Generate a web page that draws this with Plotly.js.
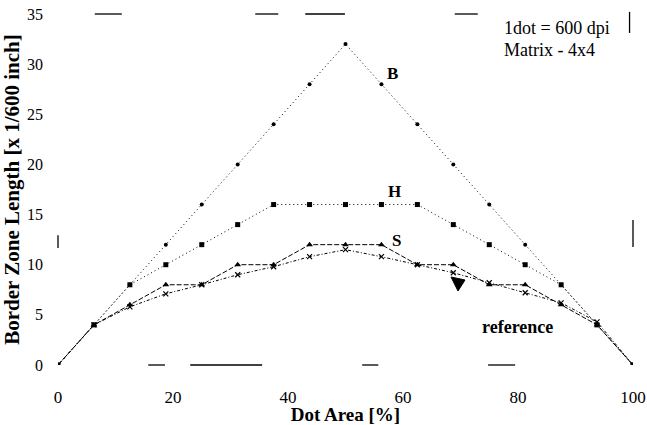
<!DOCTYPE html>
<html>
<head>
<meta charset="utf-8">
<script src="https://cdn.plot.ly/plotly-3.0.1.min.js"></script>
<style>html,body{margin:0;padding:0;background:#fff;}#chart{width:647px;height:425px;}</style>
</head>
<body>
<div id="chart"></div>
<script>
var dotArea = [0, 6.25, 12.5, 18.75, 25, 31.25, 37.5, 43.75, 50, 56.25, 62.5, 68.75, 75, 81.25, 87.5, 93.75, 100];
var seriesB = [0, 4, 8, 12, 16, 20, 24, 28, 32, 28, 24, 20, 16, 12, 8, 4, 0];
var seriesH = [0, 4, 8, 10, 12, 14, 16, 16, 16, 16, 16, 14, 12, 10, 8, 4, 0];
var seriesS = [0, 4, 6, 8, 8, 10, 10, 12, 12, 12, 10, 10, 8, 8, 6, 4, 0];
var seriesRef = [0, 4, 5.8, 7.1, 8, 9, 9.8, 10.8, 11.5, 10.8, 10, 9.2, 8.2, 7.2, 6.2, 4.3, 0];
var xTicks = [0, 20, 40, 60, 80, 100];
var yTicks = [0, 5, 10, 15, 20, 25, 30, 35];

var serif = 'Liberation Serif, Times New Roman, serif';

var traces = [
  {x: dotArea, y: seriesRef, mode: 'lines+markers', name: 'reference',
   line: {color: '#000', width: 1, dash: '3px,2px,1px,2px'},
   marker: {symbol: 'x-thin', size: 5, line: {color: '#000', width: 1.2}, color: '#000'}},
  {x: dotArea, y: seriesS, mode: 'lines+markers', name: 'S',
   line: {color: '#000', width: 1, dash: '5px,2px'},
   marker: {symbol: 'triangle-up', size: 6, color: '#000'}},
  {x: dotArea, y: seriesH, mode: 'lines+markers', name: 'H',
   line: {color: '#000', width: 1, dash: '1px,3px'},
   marker: {symbol: 'square', size: 5, color: '#000'}},
  {x: dotArea, y: seriesB, mode: 'lines+markers', name: 'B',
   line: {color: '#000', width: 1, dash: '1px,3px'},
   marker: {symbol: 'circle', size: 4, color: '#000'}}
];

function seg(x0, y0, x1, y1) {
  return {type: 'line', xref: 'paper', yref: 'paper', x0: x0, y0: y0, x1: x1, y1: y1,
          line: {color: '#000', width: 1.3}};
}
function px(p) { return ((p - 58) / 575).toFixed(4); }
function py(p) { return ((365 - p) / 351).toFixed(4); }

var layout = {
  width: 647, height: 425,
  margin: {l: 58, r: 14, t: 14, b: 60},
  paper_bgcolor: '#fff', plot_bgcolor: '#fff',
  showlegend: false,
  font: {family: serif, color: '#000'},
  xaxis: {
    range: [0, 100], tickvals: xTicks, ticktext: xTicks.map(String),
    showgrid: false, zeroline: false, showline: false, ticks: '',
    ticklabelstandoff: 20, tickfont: {family: serif, size: 17, color: '#000'},
    title: {text: '<b>Dot Area [%]</b>', font: {family: serif, size: 19, color: '#000'}, standoff: 2}
  },
  yaxis: {
    range: [0, 35], tickvals: yTicks, ticktext: yTicks.map(String),
    showgrid: false, zeroline: false, showline: false, ticks: '',
    ticklabelstandoff: 14, tickfont: {family: serif, size: 16, color: '#000'},
    title: {text: '<b>Border Zone Length [x 1/600 inch]</b>', font: {family: serif, size: 21, color: '#000'}, standoff: 2}
  },
  shapes: [
    seg(0.064, 1.0, 0.111, 1.0), seg(0.343, 1.0, 0.383, 1.0), seg(0.430, 1.0, 0.499, 1.0), seg(0.690, 1.0, 0.730, 1.0),
    seg(0.157, 0, 0.186, 0), seg(0.230, 0, 0.355, 0), seg(0.529, 0, 0.557, 0), seg(0.748, 0, 0.795, 0),
    seg(0.994, 1.006, 0.994, 0.946), seg(1.0, 0.413, 1.0, 0.336), seg(0, 0.370, 0, 0.333),
    {type: 'path', xref: 'paper', yref: 'paper', fillcolor: '#000', line: {color: '#000', width: 1},
     path: 'M' + px(451) + ',' + py(277) + ' L' + px(465) + ',' + py(280) + ' L' + px(458) + ',' + py(291) + ' Z'}
  ],
  annotations: [
    {xref: 'paper', yref: 'paper', x: (502 - 58) / 575, y: (365 - 28) / 351, xanchor: 'left', yanchor: 'middle', showarrow: false,
     text: '1dot = 600 dpi', font: {family: serif, size: 18, color: '#000'}},
    {xref: 'paper', yref: 'paper', x: (502 - 58) / 575, y: (365 - 50) / 351, xanchor: 'left', yanchor: 'middle', showarrow: false,
     text: 'Matrix - 4x4', font: {family: serif, size: 18, color: '#000'}},
    {xref: 'paper', yref: 'paper', x: (392 - 58) / 575, y: (365 - 74) / 351, xanchor: 'center', yanchor: 'middle', showarrow: false,
     text: '<b>B</b>', font: {family: serif, size: 17, color: '#000'}},
    {xref: 'paper', yref: 'paper', x: (394 - 58) / 575, y: (365 - 191) / 351, xanchor: 'center', yanchor: 'middle', showarrow: false,
     text: '<b>H</b>', font: {family: serif, size: 17, color: '#000'}},
    {xref: 'paper', yref: 'paper', x: (396 - 58) / 575, y: (365 - 240) / 351, xanchor: 'center', yanchor: 'middle', showarrow: false,
     text: '<b>S</b>', font: {family: serif, size: 17, color: '#000'}},
    {xref: 'paper', yref: 'paper', x: (517 - 58) / 575, y: (365 - 327) / 351, xanchor: 'center', yanchor: 'middle', showarrow: false,
     text: '<b>reference</b>', font: {family: serif, size: 18, color: '#000'}}
  ]
};

Plotly.newPlot('chart', traces, layout, {displayModeBar: false, staticPlot: true});
</script>
</body>
</html>
